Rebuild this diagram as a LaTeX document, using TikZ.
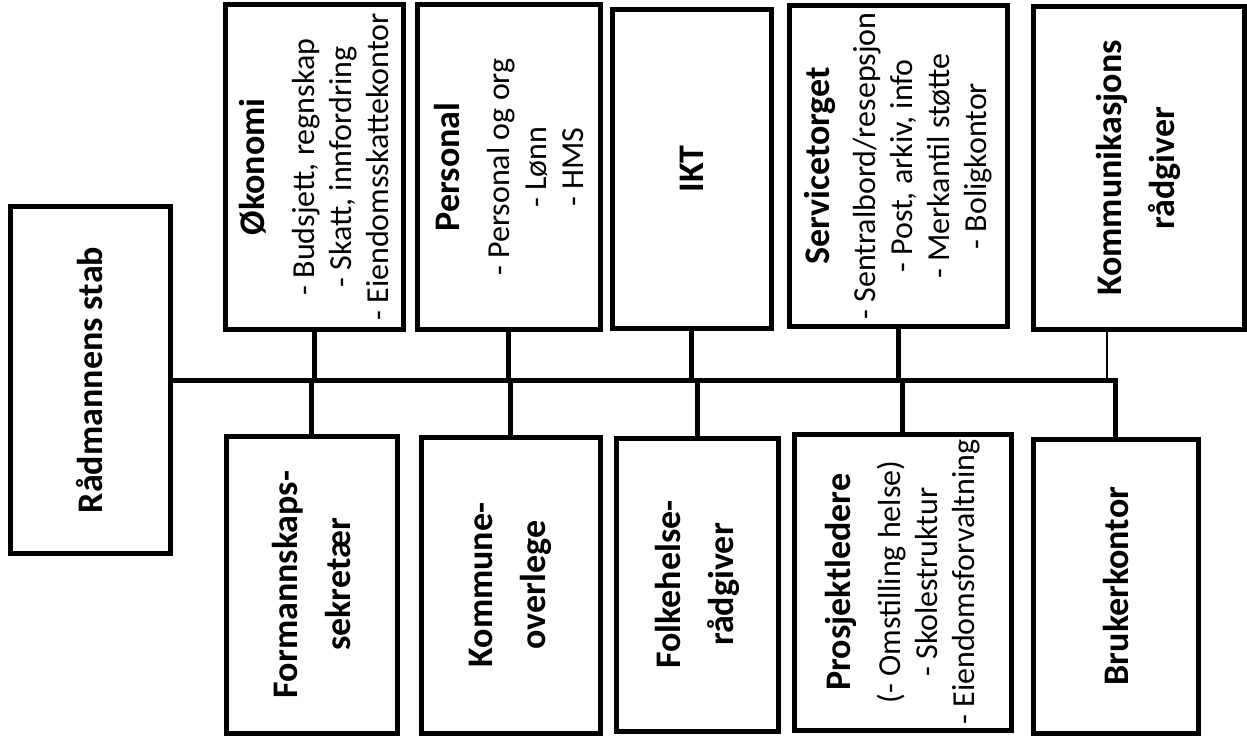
\documentclass[tikz,border=0pt]{standalone}
\usepackage{fontspec}
\setmainfont{Carlito}
\newcommand\boxhead[1]{{\fontsize{36}{37}\selectfont\bfseries #1}}
\begin{document}
\begin{tikzpicture}[x=1pt,y=-1pt,
  box/.style={draw, line width=5pt, rotate=90, inner sep=0pt, align=center,
    font=\fontsize{32}{37}\selectfont},
  bbox/.style={box, font=\fontsize{36}{53}\selectfont\bfseries},
  boxsize/.style 2 args={minimum height=#1, minimum width=#2},
  conn/.style={line width=5pt},
  thinconn/.style={line width=1.5pt}]
\useasboundingbox[fill=white] (0,0) rectangle (1247,741);

% left
\node[bbox, boxsize={160}{347}] (rad) at (90,380) {Rådmannens stab};

% top row
\node[box, boxsize={178}{325}] (oko) at (314,167)
  {\boxhead{Økonomi}\\[13pt] - Budsjett, regnskap\\ - Skatt, innfordring\\ - Eiendomsskattekontor};
\node[box, boxsize={183}{325}] (pers) at (508.5,167)
  {\boxhead{Personal}\\[13pt] - Personal og org\\ - Lønn\\ - HMS};
\node[bbox, boxsize={159}{318}] (ikt) at (691.5,169) {IKT};
\node[box, boxsize={218}{320}] (serv) at (898,166)
  {\boxhead{Servicetorget}\\[9pt] - Sentralbord/resepsjon\\ - Post, arkiv, info\\ - Merkantil støtte\\ - Boligkontor};
\node[bbox, boxsize={211}{323}] (komm) at (1138.5,168) {Kommunikasjons\\rådgiver};

% bottom row
\node[bbox, boxsize={171}{297}] (form) at (311.5,584.5) {Formannskaps-\\sekretær};
\node[bbox, boxsize={179}{296}] (kov) at (510.5,585) {Kommune-\\overlege};
\node[bbox, boxsize={162}{293}] (folk) at (697,584.5) {Folkehelse-\\rådgiver};
\node[box, boxsize={217}{296}] (pros) at (902.5,582)
  {\boxhead{Prosjektledere}\\[13pt] (- Omstilling helse)\\ - Skolestruktur\\ - Eiendomsforvaltning};
\node[bbox, boxsize={165}{294}] (bruk) at (1115.5,586) {Brukerkontor};

% connectors
\draw[conn] (rad) -- (rad -| bruk) -- (bruk);
\foreach \n in {oko,pers,ikt,serv,form,kov,folk,pros}
  \draw[conn] (\n) -- (\n |- rad);
\coordinate (kc) at (1107,0);
\draw[thinconn] (kc |- komm.west) -- (kc |- rad);
\end{tikzpicture}
\end{document}
